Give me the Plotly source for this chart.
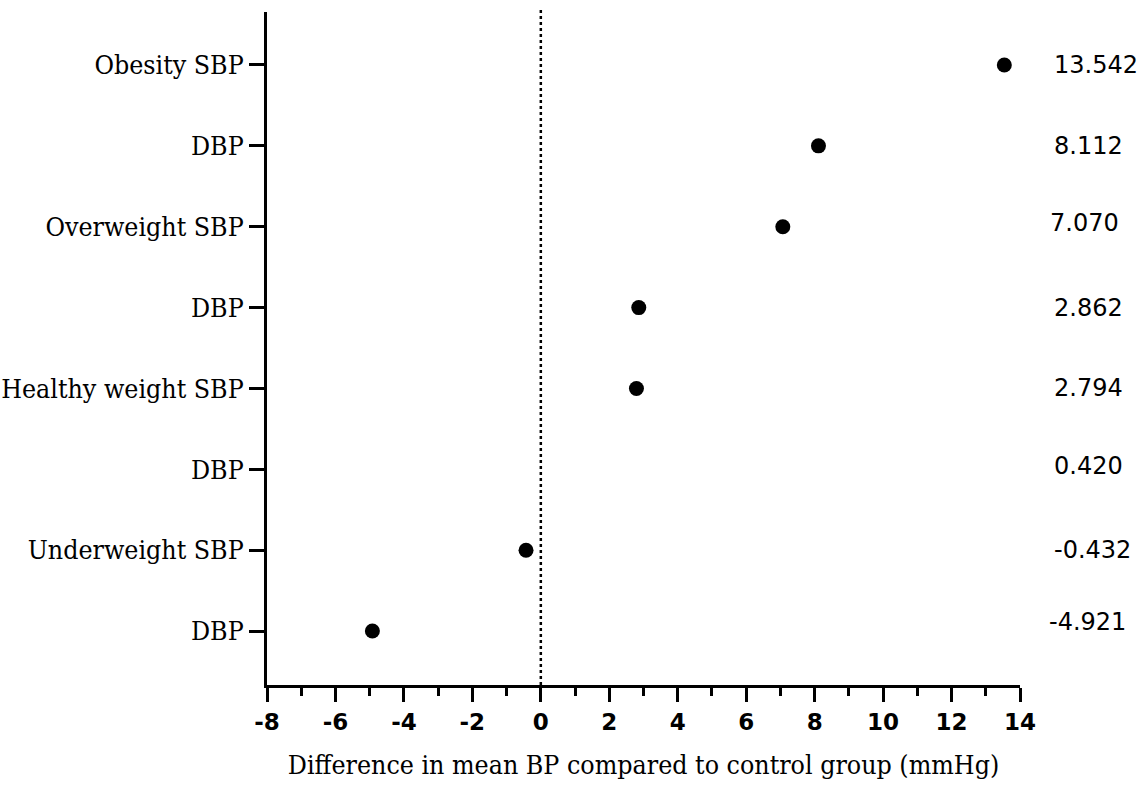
import plotly.graph_objects as go

# ---- data ----
row_labels = ["Obesity SBP", "DBP", "Overweight SBP", "DBP",
              "Healthy weight SBP", "DBP", "Underweight SBP", "DBP"]
values = [13.542, 8.112, 7.070, 2.862, 2.794, 0.420, -0.432, -4.921]
value_text = ["13.542", "8.112", "7.070", "2.862", "2.794", "0.420", "-0.432", "-4.921"]
# the 0.420 point is not drawn as a dot in the reference
shown = [True, True, True, True, True, False, True, True]
x_ticks = list(range(-8, 15, 2))

n = len(row_labels)
ypos = [n - 1 - i for i in range(n)]

SERIF = "DejaVu Serif Condensed, DejaVu Serif, Liberation Serif, serif"
SANS = "DejaVu Sans, Liberation Sans, sans-serif"

fig = go.Figure()
fig.add_trace(go.Scatter(
    x=[v for v, s in zip(values, shown) if s],
    y=[y for y, s in zip(ypos, shown) if s],
    mode="markers",
    marker=dict(color="black", size=15, symbol="circle"),
    showlegend=False,
    hoverinfo="x",
))

# zero reference line
fig.add_shape(type="line", x0=0, x1=0, xref="x", yref="paper", y0=0, y1=1.006,
              line=dict(color="black", width=2.5, dash="dot"))

# value annotations on the right
left_px = [1052, 1052, 1048, 1052, 1052, 1052, 1052, 1047]
yshift = [0, 0, 4, 0, 0, 3, 0, 9]
for i in range(n):
    fig.add_annotation(
        x=(left_px[i] - 265) / 755, xref="paper", xanchor="left",
        y=ypos[i], yref="y", yanchor="middle", yshift=yshift[i],
        text=value_text[i], showarrow=False,
        font=dict(family=SANS, size=24, color="black"),
    )

fig.update_xaxes(
    range=[-8, 14], tickvals=x_ticks, ticktext=[str(t) for t in x_ticks],
    showline=True, linecolor="black", linewidth=3,
    ticks="outside", ticklen=14, tickwidth=3, tickcolor="black",
    minor=dict(dtick=1, tick0=-8, ticks="outside", ticklen=8, tickwidth=3, tickcolor="black"),
    showgrid=False, zeroline=False, automargin=False,
    tickfont=dict(family=SANS, size=23, color="black", weight="bold"),
    title=dict(text="Difference in mean BP compared to control group (mmHg)",
               font=dict(family=SERIF, size=26.5, color="black"), standoff=22),
)
fig.update_yaxes(
    range=[-0.667, 7.655], tickvals=ypos, ticktext=row_labels,
    showline=True, linecolor="black", linewidth=3,
    ticks="outside", ticklen=15, tickwidth=3, tickcolor="black",
    showgrid=False, zeroline=False, automargin=False,
    tickfont=dict(family=SERIF, size=26.5, color="black"),
)

fig.update_layout(
    width=1144, height=809,
    margin=dict(l=267, r=124, t=12, b=124),
    plot_bgcolor="white", paper_bgcolor="white",
)

fig.write_html("out.html")
